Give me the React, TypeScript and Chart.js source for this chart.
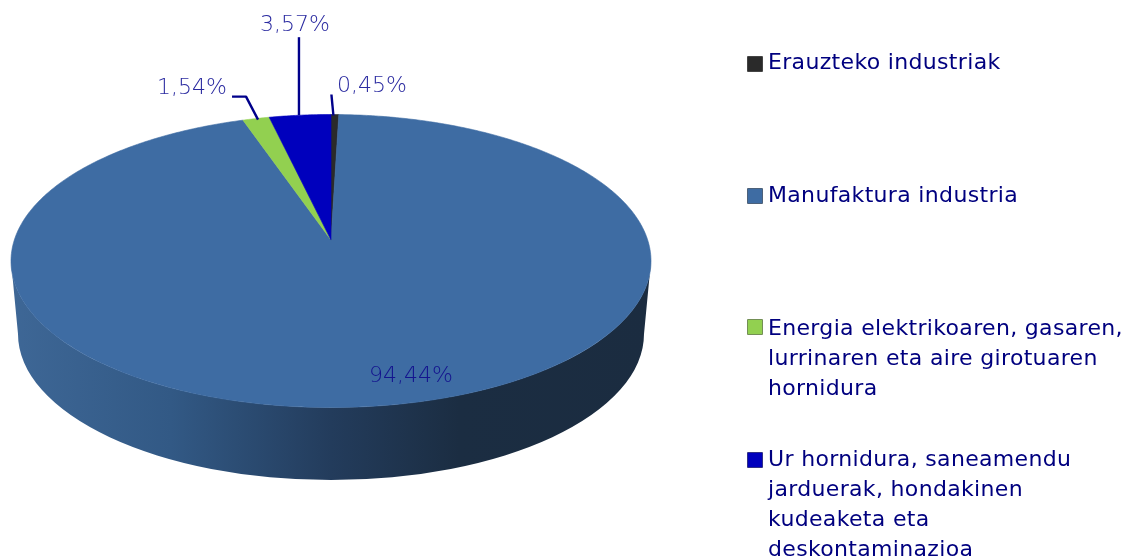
import React, { useEffect, useRef } from "react";
import { Chart, registerables } from "chart.js";

Chart.register(...registerables);

const categories = [
  "Erauzteko industriak",
  "Manufaktura industria",
  "Energia elektrikoaren, gasaren, lurrinaren eta aire girotuaren hornidura",
  "Ur hornidura, saneamendu jarduerak, hondakinen kudeaketa eta deskontaminazioa",
];
const legendLines = [
  ["Erauzteko industriak"],
  ["Manufaktura industria"],
  ["Energia elektrikoaren, gasaren,", "lurrinaren eta aire girotuaren", "hornidura"],
  ["Ur hornidura, saneamendu", "jarduerak, hondakinen", "kudeaketa eta", "deskontaminazioa"],
];
const shares = [0.45, 94.44, 1.54, 3.57];
const shareLabels = ["0,45%", "94,44%", "1,54%", "3,57%"];
const colors = ["#2a2a2a", "#3e6ca3", "#92d050", "#0000bd"];

const legendTop = [47, 180, 313, 444];
const swatchTop = [56, 188, 319, 452];

const XS = 320 / 261;
const YS = 146.5 / 261;
const K = 0.143;
const DEPTH = 73;
const BOTTOM_RX = 313;
const BOTTOM_RY = 146;
const TEXT_FONT = '"DejaVu Sans", sans-serif';

const project = (cx: number, cy: number, r: number, theta: number) => {
  const u = Math.sin(theta);
  const v = -Math.cos(theta);
  const d = 1 - K * v;
  return {
    x: cx + r * XS * (u * Math.sqrt(1 - K * K)) / d,
    y: cy + r * YS * (v - K) / d,
  };
};

const pie3d = {
  id: "pie3d",
  beforeDatasetDraw(chart: any) {
    const { ctx } = chart;
    const arcs = chart.getDatasetMeta(0).data;
    const { x: cx, y: cy, outerRadius: r } = arcs[0];
    const rx = r * XS;
    const ry = r * YS;

    // side wall
    const grad = ctx.createLinearGradient(cx - rx, 0, cx + rx, 0);
    grad.addColorStop(0, "#3e6796");
    grad.addColorStop(0.25, "#325985");
    grad.addColorStop(0.5, "#233c5c");
    grad.addColorStop(0.7, "#1b2d42");
    grad.addColorStop(1, "#1b2c40");
    ctx.save();
    ctx.beginPath();
    ctx.ellipse(cx, cy, rx, ry, 0, Math.PI, 0, true);
    ctx.lineTo(cx + BOTTOM_RX, cy + DEPTH);
    ctx.ellipse(cx, cy + DEPTH, BOTTOM_RX, BOTTOM_RY, 0, 0, Math.PI, false);
    ctx.closePath();
    ctx.fillStyle = grad;
    ctx.fill();

    // top face wedges, from the arc elements' angles
    const apexC = { x: cx, y: cy + ry * -K };
    arcs.forEach((arc: any, i: number) => {
      const a0 = arc.startAngle + Math.PI / 2;
      const a1 = arc.endAngle + Math.PI / 2;
      const steps = Math.max(4, Math.ceil((a1 - a0) * 90));
      ctx.beginPath();
      ctx.moveTo(apexC.x, apexC.y);
      for (let s = 0; s <= steps; s++) {
        const p = project(cx, cy, r, a0 + ((a1 - a0) * s) / steps);
        ctx.lineTo(p.x, p.y);
      }
      ctx.closePath();
      ctx.fillStyle = colors[i];
      ctx.strokeStyle = colors[i];
      ctx.lineWidth = 0.6;
      ctx.fill();
      ctx.stroke();
    });

    // leader lines: start on the rim at each slice's mid angle
    ctx.strokeStyle = "#00008b";
    ctx.lineWidth = 2.4;
    ctx.lineJoin = "round";
    const mid = (i: number) => project(cx, cy, r, (arcs[i].startAngle + arcs[i].endAngle) / 2 + Math.PI / 2);
    const m0 = mid(0);
    ctx.beginPath();
    ctx.moveTo(m0.x - 1.5, m0.y + 1);
    ctx.lineTo(m0.x - 3.5, m0.y - 20);
    ctx.stroke();
    const m2 = mid(2);
    ctx.beginPath();
    ctx.moveTo(m2.x + 2, m2.y + 1);
    ctx.lineTo(m2.x - 10, m2.y - 22);
    ctx.lineTo(m2.x - 24, m2.y - 22);
    ctx.stroke();
    const m3 = mid(3);
    ctx.beginPath();
    ctx.moveTo(m3.x - 1, m3.y);
    ctx.lineTo(m3.x - 1, m3.y - 78);
    ctx.stroke();

    // value labels
    ctx.font = `200 22px "DejaVu Sans ExtraLight", ${TEXT_FONT}`;
    ctx.textBaseline = "middle";
    ctx.textAlign = "left";
    ctx.fillStyle = "#2a2aa0";
    ctx.fillText(shareLabels[0], m0.x + 2, m0.y - 28);
    ctx.fillText(shareLabels[2], m2.x - 99, m2.y - 30);
    ctx.fillText(shareLabels[3], m3.x - 40, m3.y - 90);
    ctx.fillStyle = "#14148f";
    const m1 = project(cx, cy, r, Math.PI);
    ctx.fillText(shareLabels[1], m1.x + 38, m1.y - 31);
    ctx.restore();
    return false;
  },
};

export default function App() {
  const ref = useRef<HTMLCanvasElement>(null);
  useEffect(() => {
    document.body.style.margin = "0";
    document.body.style.background = "#ffffff";
    const chart = new Chart(ref.current!, {
      type: "pie",
      data: {
        labels: categories,
        datasets: [{ data: shares, backgroundColor: colors, borderWidth: 0 }],
      },
      options: {
        animation: false,
        responsive: false,
        layout: { padding: { left: 0, right: 464, top: 0, bottom: 35 } },
        plugins: { legend: { display: false }, tooltip: { enabled: false } },
      },
      plugins: [pie3d],
    } as any);
    return () => chart.destroy();
  }, []);

  return (
    <div style={{ position: "relative", width: 1126, height: 557, overflow: "hidden", background: "#fff" }}>
      <canvas ref={ref} width={1126} height={557} style={{ position: "absolute", left: 0, top: 0 }} />
      {legendLines.map((lines, i) => (
        <React.Fragment key={i}>
          <div
            style={{
              position: "absolute",
              left: 747,
              top: swatchTop[i],
              width: 14,
              height: 14,
              background: colors[i],
              border: "1px solid rgba(90,90,90,0.55)",
              borderRadius: 1,
            }}
          />
          <div
            style={{
              position: "absolute",
              left: 768,
              top: legendTop[i],
              font: `22px/30px ${TEXT_FONT}`,
              letterSpacing: "0.33px",
              color: "#00007f",
              whiteSpace: "nowrap",
            }}
          >
            {lines.map((l, j) => (
              <div key={j}>{l}</div>
            ))}
          </div>
        </React.Fragment>
      ))}
    </div>
  );
}
